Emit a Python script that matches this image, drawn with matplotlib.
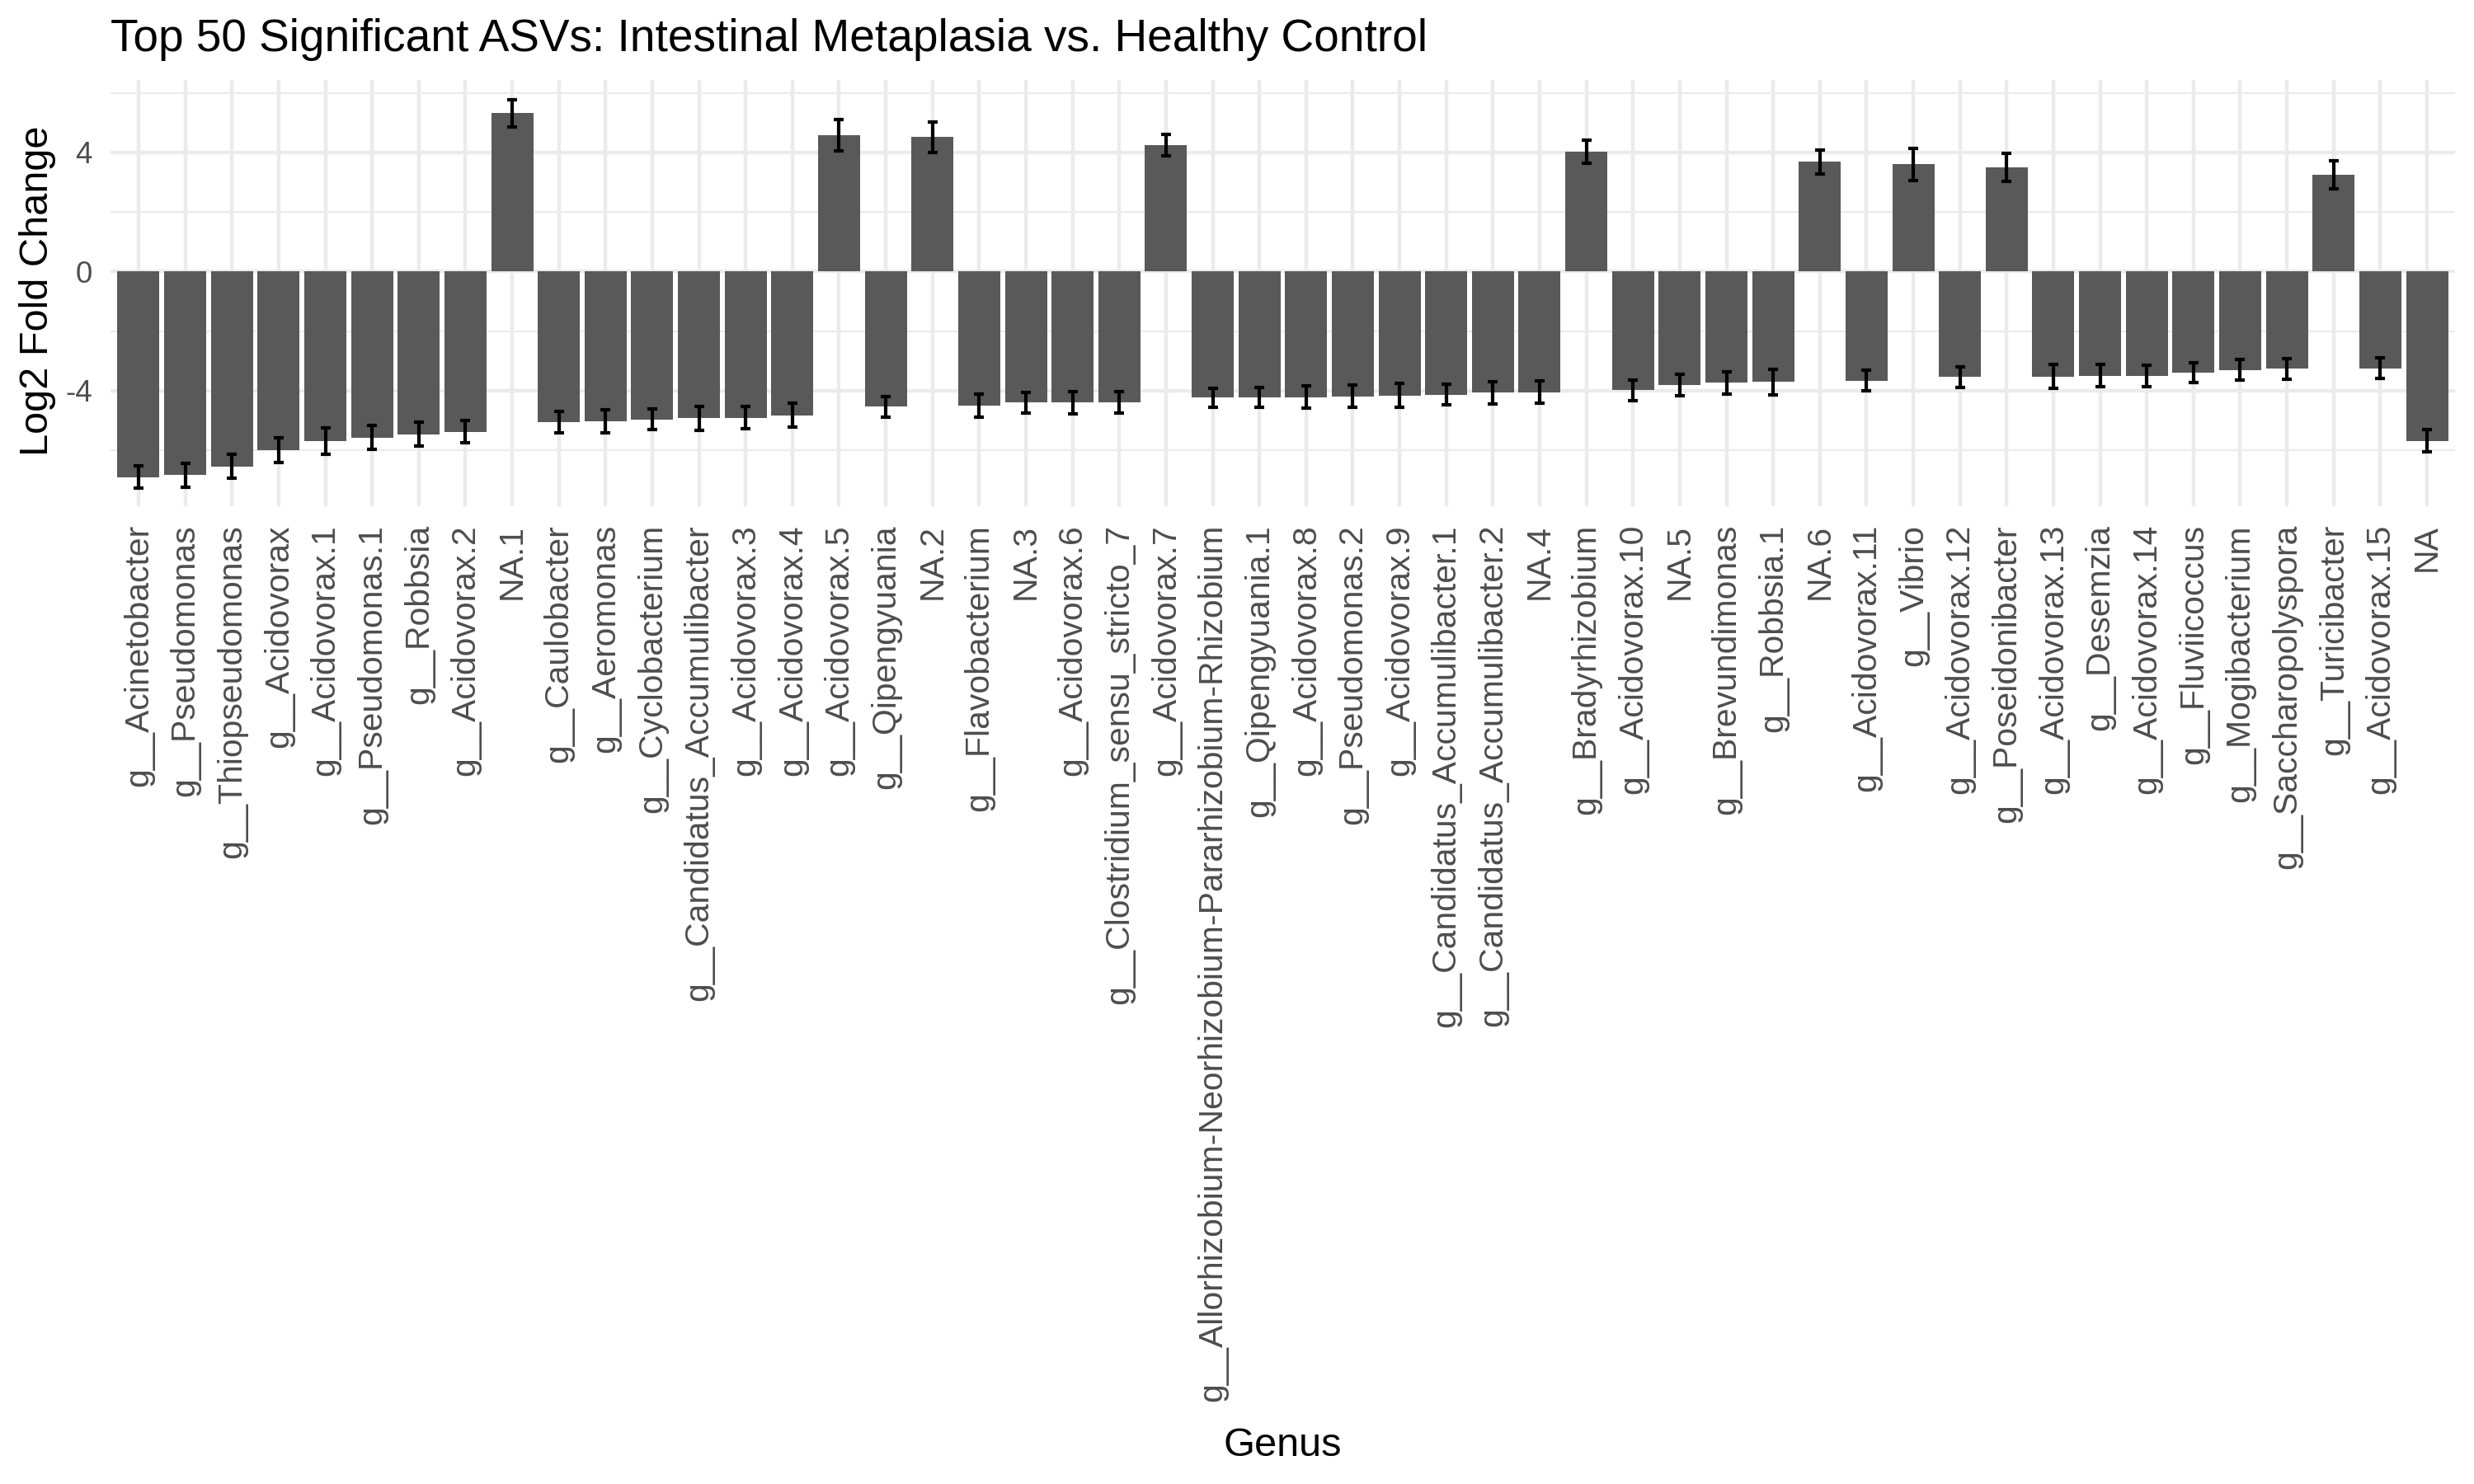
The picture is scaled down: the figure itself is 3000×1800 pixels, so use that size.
"""
Top 50 ASV 막대 그래프 (Log2 Fold Change + 표준오차)
"""
import numpy as np
import matplotlib.pyplot as plt

plt.rcParams['font.family'] = ['Liberation Sans', 'DejaVu Sans']

# x축 라벨 (Genus)
genus = ['g__Acinetobacter', 'g__Pseudomonas', 'g__Thiopseudomonas', 'g__Acidovorax',
         'g__Acidovorax.1', 'g__Pseudomonas.1', 'g__Robbsia', 'g__Acidovorax.2', 'NA.1',
         'g__Caulobacter', 'g__Aeromonas', 'g__Cyclobacterium',
         'g__Candidatus_Accumulibacter', 'g__Acidovorax.3', 'g__Acidovorax.4',
         'g__Acidovorax.5', 'g__Qipengyuania', 'NA.2', 'g__Flavobacterium', 'NA.3',
         'g__Acidovorax.6', 'g__Clostridium_sensu_stricto_7', 'g__Acidovorax.7',
         'g__Allorhizobium-Neorhizobium-Pararhizobium-Rhizobium', 'g__Qipengyuania.1',
         'g__Acidovorax.8', 'g__Pseudomonas.2', 'g__Acidovorax.9',
         'g__Candidatus_Accumulibacter.1', 'g__Candidatus_Accumulibacter.2', 'NA.4',
         'g__Bradyrhizobium', 'g__Acidovorax.10', 'NA.5', 'g__Brevundimonas',
         'g__Robbsia.1', 'NA.6', 'g__Acidovorax.11', 'g__Vibrio', 'g__Acidovorax.12',
         'g__Poseidonibacter', 'g__Acidovorax.13', 'g__Desemzia', 'g__Acidovorax.14',
         'g__Fluviicoccus', 'g__Mogibacterium', 'g__Saccharopolyspora',
         'g__Turicibacter', 'g__Acidovorax.15', 'NA']

# log2 fold change
lfc = [-6.90, -6.84, -6.54, -5.99, -5.69, -5.57, -5.46, -5.38, 5.31, -5.07,
       -5.03, -4.96, -4.93, -4.91, -4.83, 4.57, -4.54, 4.51, -4.51, -4.40,
       -4.40, -4.38, 4.24, -4.24, -4.22, -4.22, -4.19, -4.16, -4.13, -4.07,
       -4.05, 4.02, -3.99, -3.82, -3.74, -3.71, 3.68, -3.66, 3.60, -3.54,
       3.50, -3.53, -3.50, -3.50, -3.39, -3.30, -3.27, 3.24, -3.25, -5.68]

# 표준오차 (error bar)
lfc_se = [0.37, 0.40, 0.40, 0.41, 0.44, 0.39, 0.39, 0.38, 0.46, 0.36,
          0.38, 0.35, 0.39, 0.37, 0.40, 0.53, 0.35, 0.51, 0.39, 0.35,
          0.37, 0.36, 0.35, 0.33, 0.33, 0.37, 0.37, 0.40, 0.35, 0.37,
          0.37, 0.38, 0.34, 0.36, 0.37, 0.42, 0.40, 0.34, 0.54, 0.35,
          0.48, 0.40, 0.37, 0.36, 0.33, 0.35, 0.35, 0.47, 0.34, 0.37]

W, H = 3000, 1800
fig = plt.figure(figsize=(10, 6), dpi=300)
# 패널 위치 (픽셀 기준)
left, right, top, bottom = 134, 2977, 97, 614
ax = fig.add_axes([left / W, 1 - bottom / H, (right - left) / W, (bottom - top) / H])

x = np.arange(len(genus))
ax.bar(x, lfc, width=0.9, color='#595959', zorder=2)
ax.errorbar(x, lfc, yerr=lfc_se, fmt='none', ecolor='black', elinewidth=1.0,
            capsize=1.36, capthick=1.0, zorder=3)

ax.set_xlim(-0.6, len(genus) - 0.4)
ax.set_ylim(-7.88, 6.43)

ax.set_xticks(x)
ax.set_xticklabels(genus, rotation=90, ha='center', va='top', fontsize=9.8)
ax.set_yticks([-4, 0, 4])
ax.set_yticklabels(['-4', '0', '4'], fontsize=8.8)
ax.set_yticks([-6, -2, 2, 6], minor=True)

# theme_minimal 스타일
for s in ax.spines.values():
    s.set_visible(False)
ax.tick_params(axis='both', which='both', length=0, labelcolor='#4D4D4D')
ax.tick_params(axis='x', pad=5.3)
ax.tick_params(axis='y', pad=5.3)
ax.grid(True, which='major', axis='both', color='#EBEBEB', linewidth=1.07, zorder=0)
ax.grid(True, which='minor', axis='y', color='#EBEBEB', linewidth=0.53, zorder=0)
ax.set_axisbelow(True)

fig.text(left / W, 1 - 74 / H, 'Top 50 Significant ASVs: Intestinal Metaplasia vs. Healthy Control',
         fontsize=13.2, color='black', ha='left', va='bottom')
fig.text((left + right) / 2 / W, 24 / H, 'Genus', fontsize=11.7, color='black',
         ha='center', va='bottom')
fig.text(23 / W, 1 - 353 / H, 'Log2 Fold Change', fontsize=11.7, color='black',
         rotation=90, ha='left', va='center')

fig.savefig('out.png', dpi=300, facecolor='white')
